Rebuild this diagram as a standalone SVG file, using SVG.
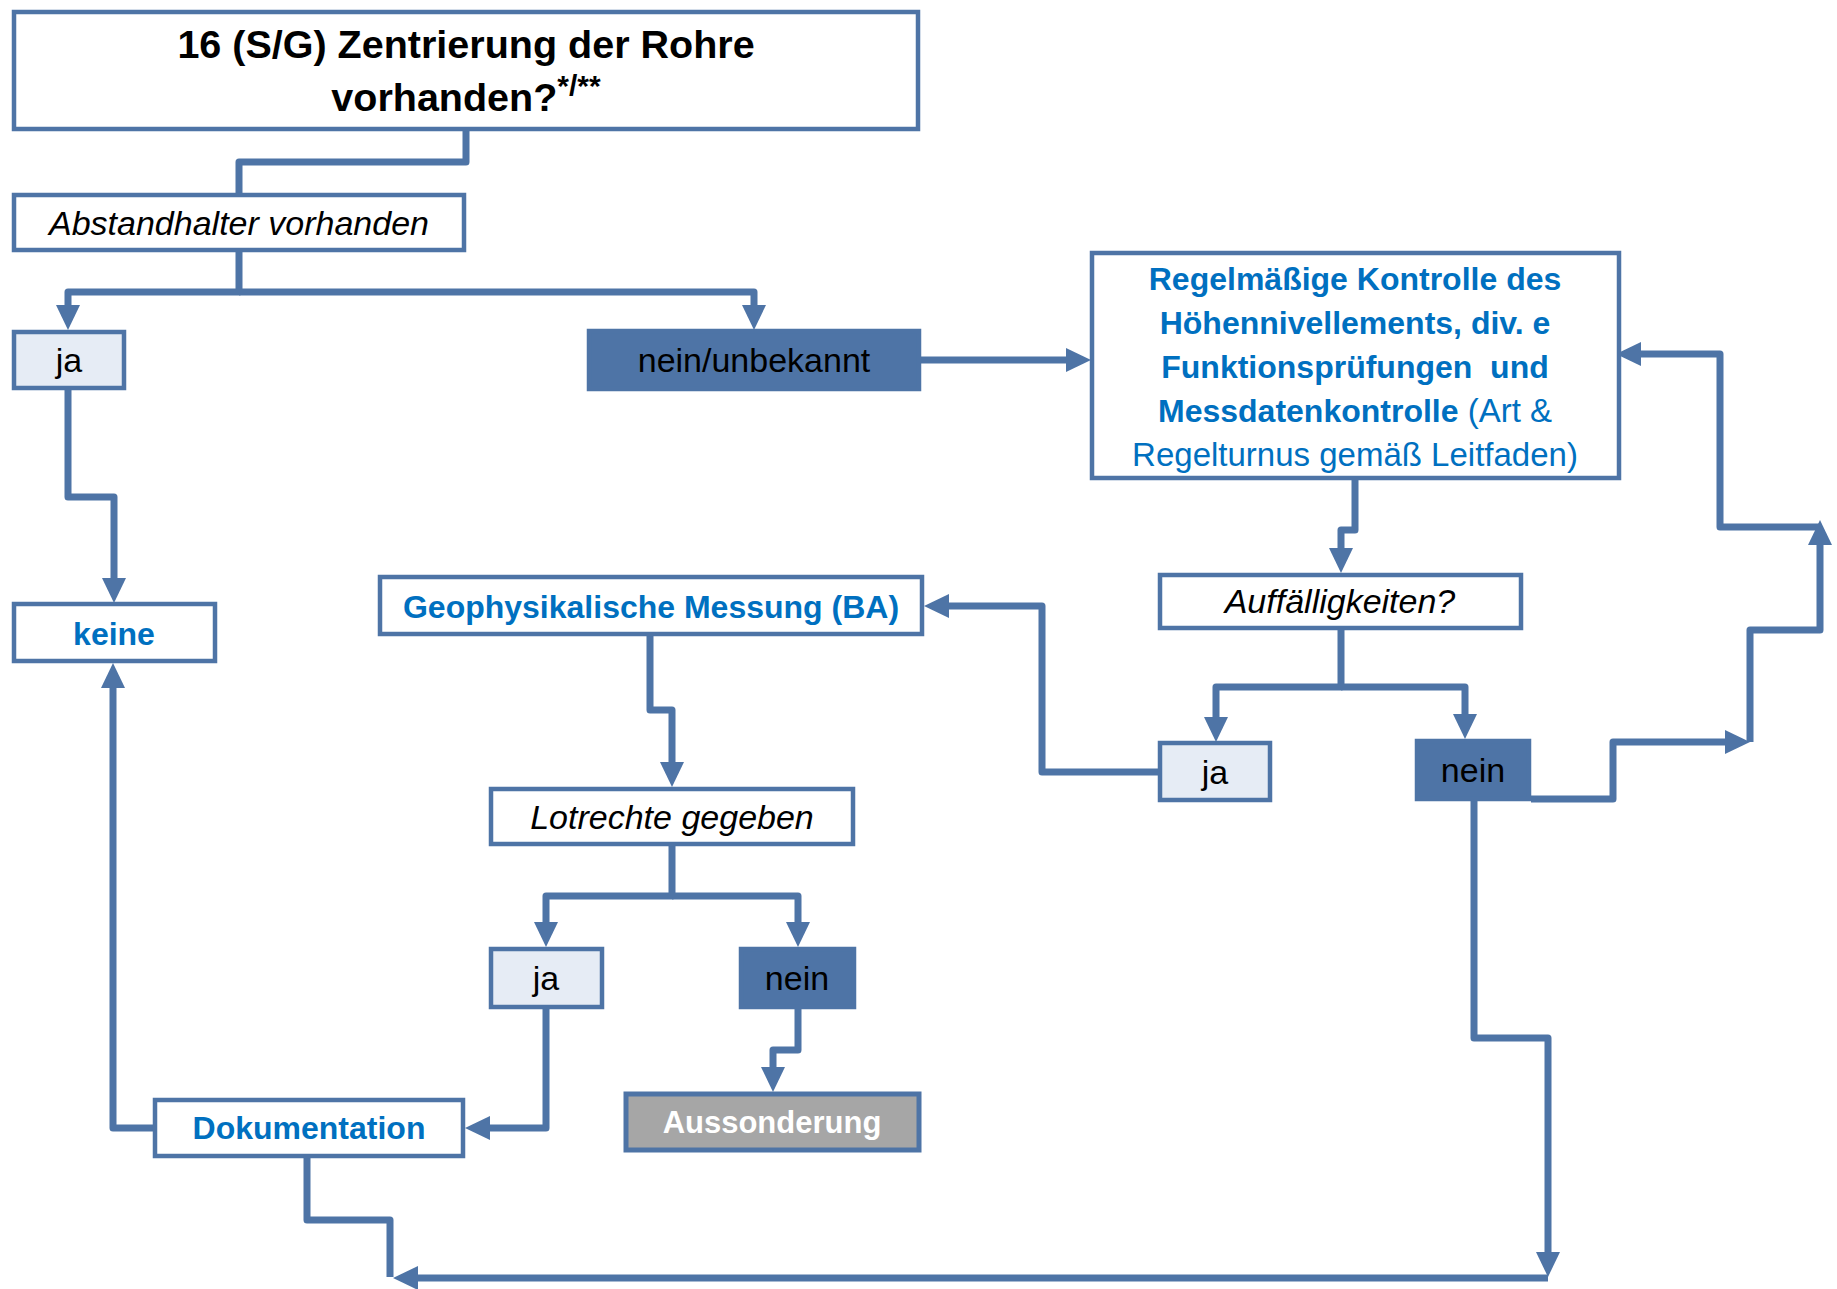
<svg xmlns="http://www.w3.org/2000/svg" width="1837" height="1289" viewBox="0 0 1837 1289">
<style>
  .box { fill: #ffffff; stroke: #4E74A6; stroke-width: 4.5; }
  .light { fill: #E6ECF5; stroke: #4E74A6; stroke-width: 4.5; }
  .dark { fill: #4E74A6; stroke: #4E74A6; stroke-width: 4.5; }
  .grey { fill: #A6A6A6; stroke: #4E74A6; stroke-width: 5; }
  .conn { fill: none; stroke: #4E74A6; stroke-width: 7; stroke-linejoin: round; }
  .arr { marker-end: url(#ah); }
  text { font-family: "Liberation Sans", Arial, sans-serif; text-anchor: middle; }
  .t-title { font-size: 39.5px; font-weight: bold; fill: #000000; }
  .t-reg { font-size: 34px; fill: #000000; }
  .t-it { font-size: 34px; font-style: italic; fill: #000000; }
  .t-blue { font-size: 32px; font-weight: bold; fill: #0070C0; }
  .t-bluereg { font-size: 33px; font-weight: normal; fill: #0070C0; }
  .t-white { font-size: 31px; font-weight: bold; fill: #ffffff; }
</style>
<defs>
  <marker id="ah" markerUnits="userSpaceOnUse" viewBox="0 0 25 24" markerWidth="25" markerHeight="24" refX="0" refY="12" orient="auto">
    <path d="M0,0 L25,12 L0,24 Z" fill="#4E74A6"/>
  </marker>
</defs>
<rect x="0" y="0" width="1837" height="1289" fill="#ffffff"/>

<g id="connectors">
  <path class="conn" d="M466,131 V162 H239 V193"/>
  <path class="conn arr" d="M239,252 V292 H68 V305"/>
  <path class="conn arr" d="M239,292 H754 V305"/>
  <path class="conn arr" d="M921,360 H1066"/>
  <path class="conn arr" d="M68,390 V497 H114 V578"/>
  <path class="conn arr" d="M1355,480 V530 H1341 V548"/>
  <path class="conn arr" d="M1341,630 V687 H1216 V717"/>
  <path class="conn arr" d="M1341,687 H1465 V714"/>
  <path class="conn arr" d="M1158,772 H1042 V606 H949"/>
  <path class="conn arr" d="M1531,799 H1613 V742 H1725"/>
  <path class="conn arr" d="M1750,742 V630 H1820 V545"/>
  <path class="conn arr" d="M1820,527 H1720 V354 H1641"/>
  <path class="conn arr" d="M650,636 V710 H672 V762"/>
  <path class="conn arr" d="M672,846 V896 H546 V922"/>
  <path class="conn arr" d="M672,896 H798 V922"/>
  <path class="conn arr" d="M798,1009 V1050 H773 V1067"/>
  <path class="conn arr" d="M546,1009 V1128 H490"/>
  <path class="conn arr" d="M153,1128 H113 V688"/>
  <path class="conn arr" d="M1474,801 V1038 H1548 V1252"/>
  <path class="conn arr" d="M1548,1278 H418"/>
  <path class="conn" d="M307,1158 V1220 H390 V1277"/>
</g>

<g id="title">
  <rect class="box" x="14" y="12" width="904" height="117"/>
  <text class="t-title" x="466" y="58">16 (S/G) Zentrierung der Rohre</text>
  <text class="t-title" x="466" y="111">vorhanden?<tspan font-size="30" dy="-15">*/**</tspan></text>
</g>

<g id="abstandhalter">
  <rect class="box" x="14" y="195" width="450" height="55"/>
  <text class="t-it" x="239" y="235">Abstandhalter vorhanden</text>
</g>

<g id="ja1">
  <rect class="light" x="14" y="332" width="110" height="56"/>
  <text class="t-reg" x="69" y="372">ja</text>
</g>

<g id="nein-unbekannt">
  <rect class="dark" x="589" y="331" width="330" height="58"/>
  <text class="t-reg" x="754" y="372">nein/unbekannt</text>
</g>

<g id="regel">
  <rect class="box" x="1092" y="253" width="527" height="225"/>
  <text class="t-blue" x="1355" y="290">Regelmäßige Kontrolle des</text>
  <text class="t-blue" x="1355" y="334">Höhennivellements, div. e</text>
  <text class="t-blue" x="1355" y="378" style="white-space:pre">Funktionsprüfungen  und</text>
  <text class="t-blue" x="1355" y="422">Messdatenkontrolle<tspan class="t-bluereg"> (Art &amp;</tspan></text>
  <text class="t-bluereg" x="1355" y="466">Regelturnus gemäß Leitfaden)</text>
</g>

<g id="keine">
  <rect class="box" x="14" y="604" width="201" height="57"/>
  <text class="t-blue" x="114" y="645">keine</text>
</g>

<g id="geophysik">
  <rect class="box" x="380" y="577" width="542" height="57"/>
  <text class="t-blue" x="651" y="618">Geophysikalische Messung (BA)</text>
</g>

<g id="auffaelligkeiten">
  <rect class="box" x="1160" y="575" width="361" height="53"/>
  <text class="t-it" x="1340" y="613">Auffälligkeiten?</text>
</g>

<g id="ja2">
  <rect class="light" x="1160" y="743" width="110" height="57"/>
  <text class="t-reg" x="1215" y="784">ja</text>
</g>

<g id="nein2">
  <rect class="dark" x="1417" y="741" width="112" height="58"/>
  <text class="t-reg" x="1473" y="782">nein</text>
</g>

<g id="lotrechte">
  <rect class="box" x="491" y="789" width="362" height="55"/>
  <text class="t-it" x="672" y="829">Lotrechte gegeben</text>
</g>

<g id="ja3">
  <rect class="light" x="491" y="949" width="111" height="58"/>
  <text class="t-reg" x="546" y="990">ja</text>
</g>

<g id="nein3">
  <rect class="dark" x="741" y="949" width="113" height="58"/>
  <text class="t-reg" x="797" y="990">nein</text>
</g>

<g id="aussonderung">
  <rect class="grey" x="626" y="1094" width="293" height="56"/>
  <text class="t-white" x="772" y="1133">Aussonderung</text>
</g>

<g id="dokumentation">
  <rect class="box" x="155" y="1100" width="308" height="56"/>
  <text class="t-blue" x="309" y="1139">Dokumentation</text>
</g>
</svg>
